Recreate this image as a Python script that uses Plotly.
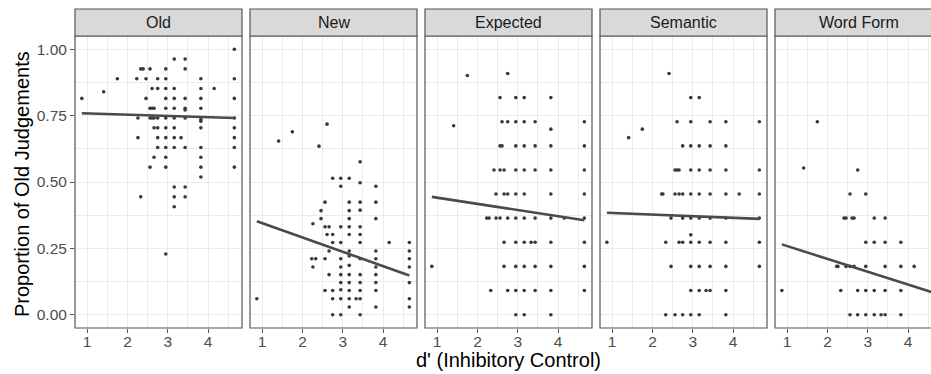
import plotly.graph_objects as go

# ---------------- data ----------------
panels = ["Old", "New", "Expected", "Semantic", "Word Form"]

old_x = [4.65,
         3.16, 3.43,
         2.33, 2.39, 2.56, 2.95, 3.43,
         1.75, 2.23, 2.46, 2.75, 2.95, 3.82, 4.65,
         1.41,
         2.61, 2.75, 2.95, 3.16, 3.82, 4.15,
         0.87, 2.46, 2.95, 3.16, 3.43, 3.82, 4.65,
         2.56, 2.61, 2.66, 2.95, 3.16, 3.43, 3.43, 3.82,
         2.26, 2.56, 2.61, 2.66, 2.75, 2.95, 3.16, 3.43, 3.82, 3.82, 4.65,
         2.66, 2.75, 2.95, 3.16, 3.82, 4.65,
         2.26, 2.75, 2.95, 3.16, 3.33, 4.65,
         2.75, 2.95, 3.16, 3.43, 3.82, 4.65,
         2.66, 2.95, 3.82,
         2.56, 2.95, 3.82, 4.65,
         3.82,
         3.16, 3.43,
         2.33, 3.16, 3.43,
         3.16,
         2.95]
old_y = [1.0,
         0.963, 0.963,
         0.926, 0.926, 0.926, 0.926, 0.926,
         0.889, 0.889, 0.889, 0.889, 0.889, 0.889, 0.889,
         0.840,
         0.852, 0.852, 0.852, 0.852, 0.852, 0.852,
         0.815, 0.815, 0.815, 0.815, 0.815, 0.815, 0.815,
         0.778, 0.778, 0.778, 0.778, 0.778, 0.778, 0.771, 0.778,
         0.741, 0.741, 0.741, 0.741, 0.741, 0.741, 0.741, 0.741, 0.735, 0.729, 0.741,
         0.704, 0.704, 0.704, 0.704, 0.704, 0.704,
         0.667, 0.667, 0.667, 0.667, 0.667, 0.667,
         0.630, 0.630, 0.630, 0.630, 0.630, 0.630,
         0.593, 0.593, 0.593,
         0.556, 0.556, 0.556, 0.556,
         0.519,
         0.481, 0.481,
         0.444, 0.444, 0.444,
         0.407,
         0.229]

new_x = [1.41, 1.75, 2.41, 2.61, 3.43,
         2.75, 2.95, 3.16,
         2.95, 3.43, 3.82,
         2.56, 3.16, 3.43, 3.82,
         2.46, 3.16, 3.43,
         2.26, 2.46, 3.16, 3.82,
         2.56, 2.66, 2.95, 3.16, 3.43,
         2.61, 2.75, 3.16, 3.43,
         2.75, 2.95, 3.43, 4.15, 4.65,
         2.66, 3.16, 3.82, 4.65,
         2.23, 2.33, 2.56, 2.95, 3.16, 3.43, 3.82, 4.65,
         2.26, 2.95, 3.16, 3.82, 4.65,
         2.66, 2.95, 3.16, 3.43, 3.82,
         2.95, 3.16, 3.43, 3.82, 4.65,
         2.56, 2.75, 2.95, 3.16, 3.43, 3.82,
         0.87, 2.75, 2.95, 3.16, 3.33, 3.43, 4.65,
         3.16, 3.82, 4.65,
         2.75, 2.95, 3.43]
new_y = [0.654, 0.689, 0.635, 0.718, 0.576,
         0.514, 0.514, 0.514,
         0.484, 0.497, 0.484,
         0.424, 0.424, 0.424, 0.424,
         0.392, 0.392, 0.394,
         0.343, 0.362, 0.362, 0.362,
         0.331, 0.331, 0.331, 0.331, 0.331,
         0.302, 0.302, 0.302, 0.302,
         0.272, 0.272, 0.272, 0.272, 0.272,
         0.240, 0.240, 0.240, 0.240,
         0.211, 0.211, 0.211, 0.211, 0.221, 0.211, 0.211, 0.211,
         0.180, 0.180, 0.186, 0.180, 0.180,
         0.151, 0.151, 0.151, 0.151, 0.151,
         0.121, 0.121, 0.121, 0.121, 0.121,
         0.091, 0.091, 0.094, 0.091, 0.091, 0.091,
         0.060, 0.060, 0.060, 0.060, 0.060, 0.060, 0.060,
         0.029, 0.029, 0.029,
         0.0, 0.0, 0.0]

exp_x = [1.75, 2.75,
         2.56, 2.95, 3.16, 3.82,
         1.41, 2.61, 2.75, 2.95, 3.16, 3.43, 3.82, 4.65,
         2.56, 2.61, 2.95, 3.16, 3.43, 3.82, 4.65,
         2.41, 2.56, 2.66, 2.95, 3.16, 3.43, 3.82, 4.65,
         2.46, 2.66, 2.75, 2.95, 3.16, 3.82, 4.65,
         2.23, 2.29, 2.46, 2.56, 2.75, 2.95, 3.16, 3.43, 3.82, 4.15, 4.65,
         2.66, 2.95, 3.16, 3.33, 3.43, 3.82, 4.65,
         0.87, 2.66, 2.95, 3.16, 3.43, 3.82, 4.65,
         2.33, 2.75, 2.95, 3.16, 3.43, 3.82, 4.65,
         2.95, 3.16, 3.82]
exp_y = [0.901, 0.909,
         0.818, 0.818, 0.818, 0.818,
         0.712, 0.727, 0.727, 0.727, 0.727, 0.727, 0.699, 0.727,
         0.636, 0.636, 0.636, 0.636, 0.636, 0.636, 0.636,
         0.545, 0.545, 0.545, 0.545, 0.545, 0.545, 0.545, 0.545,
         0.455, 0.455, 0.455, 0.455, 0.455, 0.455, 0.455,
         0.364, 0.364, 0.364, 0.364, 0.364, 0.364, 0.364, 0.364, 0.364, 0.364, 0.364,
         0.273, 0.273, 0.273, 0.273, 0.273, 0.273, 0.273,
         0.182, 0.182, 0.182, 0.182, 0.182, 0.182, 0.182,
         0.091, 0.091, 0.091, 0.091, 0.091, 0.091, 0.091,
         0.0, 0.0, 0.0]

sem_x = [2.41,
         2.95, 3.16,
         2.61, 2.95, 3.43, 3.82, 4.65,
         1.41, 1.75,
         2.75, 2.95, 3.16, 3.43, 3.82,
         2.56, 2.61, 2.66, 2.95, 3.16, 3.43, 3.82, 4.65,
         2.23, 2.26, 2.56, 2.66, 2.75, 2.95, 3.16, 3.43, 3.82, 4.15, 4.65,
         2.46, 2.75, 2.95, 3.16, 3.43, 3.82, 4.65,
         2.95,
         0.87, 2.33, 2.66, 2.75, 2.95, 3.16, 3.43, 3.82, 4.65,
         2.46, 2.95, 3.16, 3.43, 3.82, 4.65,
         2.95, 3.16, 3.33, 3.43, 3.82,
         2.33, 2.56, 2.75, 2.95, 3.16, 3.82]
sem_y = [0.909,
         0.818, 0.818,
         0.727, 0.727, 0.727, 0.727, 0.727,
         0.667, 0.699,
         0.636, 0.636, 0.636, 0.636, 0.636,
         0.545, 0.545, 0.545, 0.545, 0.545, 0.545, 0.545, 0.545,
         0.455, 0.455, 0.455, 0.455, 0.455, 0.455, 0.455, 0.455, 0.455, 0.455, 0.455,
         0.364, 0.364, 0.364, 0.364, 0.364, 0.364, 0.364,
         0.301,
         0.273, 0.273, 0.273, 0.273, 0.273, 0.273, 0.273, 0.273, 0.273,
         0.182, 0.182, 0.182, 0.182, 0.182, 0.182,
         0.091, 0.091, 0.091, 0.091, 0.091,
         0.0, 0.0, 0.0, 0.0, 0.0, 0.0]

wf_x = [1.75,
        1.41, 2.75,
        2.56, 2.95,
        2.41, 2.46, 2.61, 2.66, 3.16, 3.43,
        2.95, 3.16, 3.43, 3.82,
        2.23, 2.26, 2.46, 2.56, 2.66, 2.95, 3.43, 3.82, 4.15,
        0.87, 2.33, 2.75, 2.95, 3.16, 3.43, 3.82,
        2.56, 2.75, 2.95, 3.16, 3.33, 3.43, 3.82]
wf_y = [0.727,
        0.553, 0.545,
        0.455, 0.455,
        0.364, 0.364, 0.364, 0.364, 0.364, 0.364,
        0.273, 0.273, 0.273, 0.273,
        0.182, 0.182, 0.182, 0.182, 0.182, 0.182, 0.182, 0.182, 0.182,
        0.091, 0.091, 0.091, 0.091, 0.091, 0.091, 0.091,
        0.0, 0.0, 0.0, 0.0, 0.0, 0.0, 0.0]

# regression line endpoints
fit_x = [0.87, 4.65]
fit_y_start = [0.759, 0.352, 0.444, 0.384, 0.265]
fit_y_end = [0.741, 0.148, 0.356, 0.361, 0.082]

x_ticks = [1, 2, 3, 4]
y_ticks = [0.0, 0.25, 0.5, 0.75, 1.0]
y_tick_text = ["0.00", "0.25", "0.50", "0.75", "1.00"]

# ---------------- layout ----------------
W, H = 931, 374
panel_left = [75, 250, 425, 600, 775]
panel_w = 167
top_px, bot_px = 36, 328
strip_top = 9
x0, x1 = 0.70, 4.84
px_per_unit = panel_w / (x1 - x0)

xs = [old_x, new_x, exp_x, sem_x, wf_x]
ys = [old_y, new_y, exp_y, sem_y, wf_y]

fig = go.Figure()
shapes = []
annotations = []
FONT = "Liberation Sans, Arial, sans-serif"
TICKFONT = dict(size=15.5, color="#4d4d4d", family=FONT)
BORDER = "#555555"

for i, name in enumerate(panels):
    ax = "" if i == 0 else str(i + 1)
    left = panel_left[i]
    right = min(left + panel_w, W)
    rng_right = x0 + (right - left) / px_per_unit
    fig.add_trace(go.Scatter(
        x=xs[i], y=ys[i], mode="markers", xaxis="x" + ax, yaxis="y" + ax,
        marker=dict(size=3.6, color="#383838"), showlegend=False, hoverinfo="x+y"))
    fig.add_trace(go.Scatter(
        x=fit_x, y=[fit_y_start[i], fit_y_end[i]], mode="lines",
        xaxis="x" + ax, yaxis="y" + ax,
        line=dict(color="#4a4a4a", width=2.6), showlegend=False))
    fig.layout["xaxis" + ax] = dict(
        domain=[left / W, right / W], range=[x0, rng_right], anchor="y" + ax,
        tickvals=x_ticks, ticks="outside", ticklen=4, tickcolor=BORDER,
        tickfont=TICKFONT, ticklabelstandoff=-5,
        showgrid=True, gridcolor="#ebebeb", gridwidth=1.1,
        minor=dict(showgrid=True, dtick=0.5, tick0=0.5, gridcolor="#ebebeb", gridwidth=0.6),
        zeroline=False, showline=False, fixedrange=True)
    fig.layout["yaxis" + ax] = dict(
        domain=[1 - bot_px / H, 1 - top_px / H], range=[-0.05, 1.05], anchor="x" + ax,
        tickvals=y_ticks, ticktext=y_tick_text,
        showticklabels=(i == 0), ticks="outside" if i == 0 else "", ticklen=4,
        tickcolor=BORDER, tickfont=TICKFONT,
        showgrid=True, gridcolor="#ebebeb", gridwidth=1.1,
        minor=dict(showgrid=True, dtick=0.25, tick0=0.125, gridcolor="#ebebeb", gridwidth=0.6),
        zeroline=False, showline=False, fixedrange=True)
    # panel border
    shapes.append(dict(type="rect", xref="paper", yref="paper",
                       x0=left / W, x1=(left + panel_w) / W,
                       y0=1 - bot_px / H, y1=1 - top_px / H,
                       line=dict(color=BORDER, width=1.2), fillcolor="rgba(0,0,0,0)"))
    # strip
    shapes.append(dict(type="rect", xref="paper", yref="paper",
                       x0=left / W, x1=(left + panel_w) / W,
                       y0=1 - top_px / H, y1=1 - strip_top / H,
                       line=dict(color=BORDER, width=1.2), fillcolor="#d9d9d9"))
    annotations.append(dict(text=name, xref="paper", yref="paper",
                            x=(left + panel_w / 2) / W, y=1 - (strip_top + top_px) / 2 / H,
                            showarrow=False, xanchor="center", yanchor="middle",
                            font=dict(size=16, color="#1a1a1a", family=FONT)))

annotations.append(dict(text="Proportion of Old Judgements", xref="paper", yref="paper",
                        x=22 / W, y=1 - 184 / H, textangle=-90, showarrow=False,
                        xanchor="center", yanchor="middle",
                        font=dict(size=20, color="#000000", family=FONT)))
annotations.append(dict(text="d' (Inhibitory Control)", xref="paper", yref="paper",
                        x=508 / W, y=1 - 360 / H, showarrow=False,
                        xanchor="center", yanchor="middle",
                        font=dict(size=20, color="#000000", family=FONT)))

fig.update_layout(width=W, height=H, margin=dict(l=0, r=0, t=0, b=0),
                  paper_bgcolor="white", plot_bgcolor="white",
                  shapes=shapes, annotations=annotations, showlegend=False)

fig.write_html("out.html", config={"displayModeBar": False},
               post_script="document.body.style.margin='0px';document.body.style.padding='0px';")
